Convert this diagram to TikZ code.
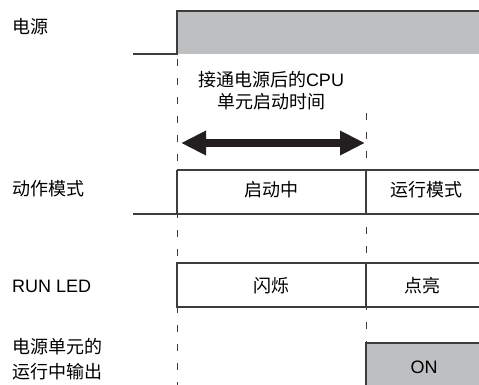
\documentclass[tikz,border=0pt]{standalone}
\usepackage{fontspec}
\setmainfont{Liberation Sans}
\newfontfamily\cjk{Noto Sans CJK SC}
\usetikzlibrary{arrows.meta}
\definecolor{linec}{HTML}{3C3C3C}
\definecolor{fillg}{HTML}{BEBFC1}
\definecolor{arrc}{HTML}{231F20}
\begin{document}
\begin{tikzpicture}[x=1pt,y=-1pt,
  sigline/.style={draw=linec, line width=1.3pt},
  boxline/.style={draw=linec, line width=1.1pt},
  dashline/.style={draw=linec, line width=1pt, dash pattern=on 7pt off 12pt, dash phase=-5pt},
  lab/.style={font=\fontsize{18}{22}\selectfont, inner sep=0pt, text=black},
  biglabel/.style={lab, align=center},
  bigarrow/.style={draw=arrc, line width=7.5pt, {Triangle[length=25pt,width=23pt]}-{Triangle[length=25pt,width=23pt]}}
]
\useasboundingbox (0,0) rectangle (479,385);
% coordinates
\coordinate (p0) at (133,54);
\coordinate (p1) at (177,54);
\coordinate (p2) at (177,11);
\coordinate (p3) at (479,11);
\coordinate (p4) at (479,54);
\coordinate (dL0) at (177,54);
\coordinate (dL1) at (177,385);
\coordinate (dR0) at (366,108);
\coordinate (dR1) at (366,385);
\coordinate (a0) at (181,143);
\coordinate (a1) at (365,143);
% power signal
\fill[fillg] (p1) -- (p2) -- (p3) -- (p4) -- cycle;
\draw[sigline] (p0) -- (p1) -- (p2) -- (p3);
% dashed guides
\draw[dashline] (dL0) -- (dL1);
\draw[dashline] (dR0) -- (dR1);
% arrow
\draw[bigarrow] (a0) -- (a1);
% mode row
\coordinate (m0) at (177,170);
\coordinate (m1) at (479,170);
\coordinate (m2) at (133,214);
\coordinate (m3) at (479,214);
\coordinate (m4) at (177,214);
\coordinate (m5) at (366,170);
\coordinate (m6) at (366,214);
\draw[boxline] (m0) -- (m1);
\draw[boxline] (m2) -- (m3);
\draw[boxline] (m0) -- (m4);
\draw[boxline] (m5) -- (m6);
% LED row
\coordinate (l0) at (177,263);
\coordinate (l1) at (479,263);
\coordinate (l2) at (177,307);
\coordinate (l3) at (479,307);
\coordinate (l4) at (366,263);
\coordinate (l5) at (366,307);
\draw[boxline] (l1) -- (l0) -- (l2) -- (l3);
\draw[boxline] (l4) -- (l5);
% ON box
\coordinate (o0) at (366,385);
\coordinate (o1) at (366,343);
\coordinate (o2) at (479,343);
\coordinate (o3) at (479,385);
\fill[fillg] (o0) -- (o1) -- (o2) -- (o3) -- cycle;
\draw[boxline] (o0) -- (o1) -- (o2);
% labels
\node[lab, anchor=west] (lpow) at (12,27) {\cjk 电源};
\node[lab, anchor=west] (lmode) at (12,189) {\cjk 动作模式};
\node[lab, anchor=west] (lled) at (12,286) {RUN LED};
\node[lab, anchor=west, align=left] (lout) at (12,359) {\cjk 电源单元的\\[3pt]\cjk 运行中输出};
\node[biglabel] (tstart) at (271,91) {{\cjk 接通电源后的}CPU\\{\cjk 单元启动时间}};
\node[lab] (tboot) at (271,190) {\cjk 启动中};
\node[lab] (trun) at (426,190) {\cjk 运行模式};
\node[lab] (tblink) at (271,286) {\cjk 闪烁};
\node[lab] (tlit) at (422,286) {\cjk 点亮};
\node[lab] (ton) at (424,367) {ON};
\end{tikzpicture}
\end{document}
